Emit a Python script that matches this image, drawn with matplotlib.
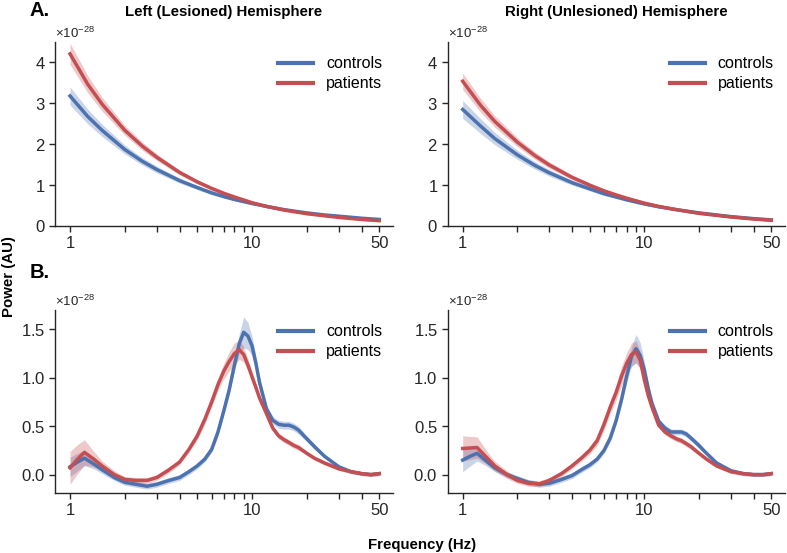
import numpy as np
import matplotlib
matplotlib.use("Agg")
import matplotlib.pyplot as plt
from matplotlib.ticker import ScalarFormatter, FixedLocator, NullFormatter

plt.rcParams['font.family'] = ['Liberation Sans', 'DejaVu Sans']
plt.rcParams['mathtext.fontset'] = 'custom'
plt.rcParams['mathtext.rm'] = 'Liberation Sans'
plt.rcParams['mathtext.it'] = 'Liberation Sans:italic'
plt.rcParams['mathtext.bf'] = 'Liberation Sans:bold'

SCALE = 1e-28
groups = ["controls", "patients"]
colors = {"controls": "#4C72B0", "patients": "#C44E52"}
titles = ["Left (Lesioned) Hemisphere", "Right (Unlesioned) Hemisphere"]
panel_letters = ["A.", "B."]

# ---- aperiodic (top row) ----
freq_ap = [1, 1.25, 1.5, 2, 2.5, 3, 4, 5, 6, 7, 8, 10, 12, 15, 20, 25, 30, 40, 50]
ap_left_controls = [3.18, 2.68, 2.34, 1.87, 1.58, 1.38, 1.11, 0.94, 0.81, 0.72, 0.65, 0.55, 0.48, 0.40, 0.32, 0.27, 0.24, 0.19, 0.16]
ap_left_patients = [4.21, 3.47, 2.98, 2.34, 1.95, 1.68, 1.31, 1.08, 0.92, 0.80, 0.71, 0.57, 0.48, 0.39, 0.30, 0.25, 0.21, 0.16, 0.13]
ap_right_controls = [2.85, 2.45, 2.14, 1.74, 1.48, 1.30, 1.06, 0.91, 0.79, 0.71, 0.64, 0.54, 0.47, 0.40, 0.32, 0.27, 0.23, 0.18, 0.15]
ap_right_patients = [3.54, 2.96, 2.56, 2.05, 1.72, 1.49, 1.19, 1.00, 0.86, 0.76, 0.68, 0.56, 0.48, 0.40, 0.31, 0.26, 0.22, 0.17, 0.14]
ap_left_controls_sem = [0.22, 0.18, 0.15, 0.11, 0.09, 0.08, 0.06, 0.05, 0.045, 0.04, 0.035, 0.03, 0.03, 0.025, 0.02, 0.02, 0.02, 0.02, 0.02]
ap_left_patients_sem = [0.26, 0.21, 0.17, 0.12, 0.10, 0.08, 0.06, 0.05, 0.045, 0.04, 0.035, 0.03, 0.03, 0.025, 0.02, 0.02, 0.02, 0.02, 0.02]
ap_right_controls_sem = [0.22, 0.18, 0.15, 0.11, 0.09, 0.08, 0.06, 0.05, 0.045, 0.04, 0.035, 0.03, 0.03, 0.025, 0.02, 0.02, 0.02, 0.02, 0.02]
ap_right_patients_sem = [0.20, 0.17, 0.14, 0.11, 0.09, 0.08, 0.06, 0.05, 0.045, 0.04, 0.035, 0.03, 0.03, 0.025, 0.02, 0.02, 0.02, 0.02, 0.02]

# ---- periodic (bottom row) ----
freq_per = [1, 1.1, 1.2, 1.35, 1.5, 1.75, 2, 2.3, 2.65, 3, 3.5, 4, 4.5, 5, 5.5, 6, 6.5, 7, 7.5, 8,
            8.5, 9, 9.5, 10, 10.5, 11, 12, 13, 14, 15, 16, 17, 18, 20, 22, 25, 30, 35, 40, 45, 50]
per_left_controls = [0.08, 0.13, 0.17, 0.11, 0.05, -0.03, -0.08, -0.10, -0.12, -0.10, -0.06, -0.03, 0.03, 0.09, 0.16, 0.26, 0.44, 0.66, 0.88, 1.13,
                     1.35, 1.47, 1.43, 1.33, 1.15, 0.95, 0.68, 0.56, 0.52, 0.51, 0.51, 0.49, 0.46, 0.37, 0.29, 0.19, 0.08, 0.03, 0.01, 0.0, 0.01]
per_left_patients = [0.07, 0.16, 0.23, 0.16, 0.09, 0.0, -0.05, -0.06, -0.06, -0.03, 0.05, 0.13, 0.26, 0.40, 0.57, 0.75, 0.93, 1.07, 1.17, 1.25,
                     1.29, 1.24, 1.13, 1.01, 0.90, 0.79, 0.63, 0.48, 0.40, 0.36, 0.33, 0.30, 0.28, 0.22, 0.17, 0.12, 0.06, 0.03, 0.01, 0.0, 0.01]
per_right_controls = [0.15, 0.19, 0.22, 0.14, 0.07, 0.0, -0.04, -0.08, -0.10, -0.09, -0.05, -0.01, 0.05, 0.10, 0.16, 0.25, 0.38, 0.56, 0.78, 1.02,
                      1.22, 1.30, 1.23, 1.08, 0.89, 0.74, 0.55, 0.48, 0.44, 0.44, 0.44, 0.42, 0.38, 0.30, 0.22, 0.12, 0.04, 0.01, 0.0, 0.0, 0.01]
per_right_patients = [0.27, 0.275, 0.28, 0.18, 0.09, 0.0, -0.06, -0.09, -0.095, -0.06, 0.01, 0.09, 0.17, 0.25, 0.35, 0.52, 0.70, 0.85, 1.02, 1.15,
                      1.24, 1.27, 1.18, 0.98, 0.82, 0.70, 0.51, 0.44, 0.40, 0.37, 0.35, 0.32, 0.29, 0.22, 0.16, 0.09, 0.03, 0.01, 0.0, 0.0, 0.01]
per_left_controls_sem = [0.10, 0.09, 0.08, 0.05, 0.04, 0.03, 0.03, 0.03, 0.03, 0.03, 0.03, 0.03, 0.03, 0.03, 0.03, 0.03, 0.04, 0.04, 0.05, 0.06,
                         0.10, 0.16, 0.14, 0.10, 0.07, 0.05, 0.04, 0.04, 0.04, 0.04, 0.04, 0.04, 0.04, 0.03, 0.03, 0.02, 0.02, 0.02, 0.02, 0.02, 0.02]
per_left_patients_sem = [0.17, 0.15, 0.13, 0.08, 0.05, 0.04, 0.03, 0.03, 0.03, 0.03, 0.03, 0.03, 0.03, 0.04, 0.05, 0.05, 0.06, 0.08, 0.10, 0.11,
                         0.10, 0.08, 0.06, 0.05, 0.04, 0.03, 0.03, 0.03, 0.03, 0.03, 0.03, 0.03, 0.03, 0.02, 0.02, 0.02, 0.02, 0.02, 0.02, 0.02, 0.02]
per_right_controls_sem = [0.12, 0.10, 0.08, 0.05, 0.04, 0.03, 0.03, 0.03, 0.03, 0.03, 0.03, 0.03, 0.03, 0.03, 0.03, 0.03, 0.04, 0.04, 0.05, 0.07,
                          0.10, 0.15, 0.13, 0.09, 0.06, 0.04, 0.03, 0.03, 0.03, 0.03, 0.03, 0.03, 0.03, 0.03, 0.02, 0.02, 0.02, 0.02, 0.02, 0.02, 0.02]
per_right_patients_sem = [0.13, 0.12, 0.11, 0.07, 0.05, 0.04, 0.03, 0.03, 0.03, 0.03, 0.03, 0.03, 0.03, 0.04, 0.05, 0.06, 0.07, 0.08, 0.10, 0.11,
                          0.12, 0.11, 0.09, 0.06, 0.04, 0.03, 0.03, 0.03, 0.03, 0.03, 0.03, 0.03, 0.03, 0.02, 0.02, 0.02, 0.02, 0.02, 0.02, 0.02, 0.02]

x_major = [1, 10, 50]
x_major_labels = ["1", "10", "50"]
x_minor = [2, 3, 4, 5, 6, 7, 8, 9, 20, 30, 40]

panels = [
    [(freq_ap, ap_left_controls, ap_left_controls_sem, ap_left_patients, ap_left_patients_sem),
     (freq_ap, ap_right_controls, ap_right_controls_sem, ap_right_patients, ap_right_patients_sem)],
    [(freq_per, per_left_controls, per_left_controls_sem, per_left_patients, per_left_patients_sem),
     (freq_per, per_right_controls, per_right_controls_sem, per_right_patients, per_right_patients_sem)],
]
ylims = [(0, 4.5), (-0.19, 1.7)]
yticks = [[0, 1, 2, 3, 4], [0.0, 0.5, 1.0, 1.5]]

W, H = 787, 553
fig = plt.figure(figsize=(W / 100, H / 100), dpi=100)
lefts = [55, 447.7]
rights = [393, 785]
tops = [42, 310]
bottoms = [226, 493]

for r in range(2):
    for c in range(2):
        ax = fig.add_axes([lefts[c] / W, 1 - bottoms[r] / H, (rights[c] - lefts[c]) / W, (bottoms[r] - tops[r]) / H])
        f, mc, sc, mp, sp = panels[r][c]
        f = np.array(f)
        for name, m, s in (("controls", mc, sc), ("patients", mp, sp)):
            m = np.array(m) * SCALE
            s = np.array(s) * SCALE
            ax.fill_between(f, m - s, m + s, color=colors[name], alpha=0.3, lw=0)
            ax.plot(f, m, color=colors[name], lw=2.5, label=name)
        ax.set_xscale('log')
        ax.set_xlim(0.827, 59.5)
        ax.set_ylim(ylims[r][0] * SCALE, ylims[r][1] * SCALE)
        ax.xaxis.set_major_locator(FixedLocator(x_major))
        ax.set_xticklabels(x_major_labels)
        ax.xaxis.set_minor_locator(FixedLocator(x_minor))
        ax.xaxis.set_minor_formatter(NullFormatter())
        ax.set_yticks([v * SCALE for v in yticks[r]])
        fmt = ScalarFormatter(useMathText=True)
        fmt.set_powerlimits((0, 0))
        ax.yaxis.set_major_formatter(fmt)
        ax.yaxis.get_offset_text().set_fontsize(9.5)
        ax.yaxis.get_offset_text().set_color('#262626')
        for sp_name in ('top', 'right'):
            ax.spines[sp_name].set_visible(False)
        for sp_name in ('left', 'bottom'):
            ax.spines[sp_name].set_linewidth(1.0)
            ax.spines[sp_name].set_color('#262626')
        ax.tick_params(axis='both', which='both', direction='out', length=4, width=1,
                       color='#262626', labelsize=12, labelcolor='#262626', pad=3)
        leg = ax.legend(loc='upper right', frameon=False, fontsize=11.5, handlelength=2.2,
                        handletextpad=0.8, labelspacing=0.3, bbox_to_anchor=(1.01, 1.0))
        for lh in leg.get_lines():
            lh.set_linewidth(3)
        if r == 0:
            ax.set_title(titles[c], fontsize=10.8, fontweight='bold', pad=19)

fig.text(30 / W, 1 - 10 / H, panel_letters[0], fontsize=14.5, fontweight='bold', va='center', ha='left')
fig.text(30 / W, 1 - 273 / H, panel_letters[1], fontsize=14.5, fontweight='bold', va='center', ha='left')
fig.text(9 / W, 0.5, "Power (AU)", rotation=90, fontsize=10.8, fontweight='bold', va='center', ha='center')
fig.text(422 / W, 1 - 545 / H, "Frequency (Hz)", fontsize=10.8, fontweight='bold', va='center', ha='center')

fig.savefig("out.png", dpi=100)
